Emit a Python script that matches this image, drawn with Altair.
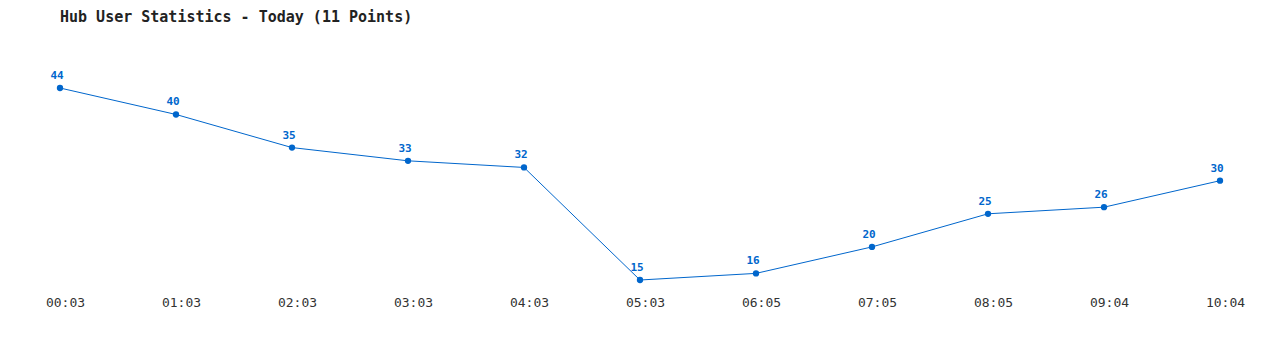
import altair as alt
import pandas as pd

times = ["00:03", "01:03", "02:03", "03:03", "04:03", "05:03", "06:05", "07:05", "08:05", "09:04", "10:04"]
users = [44, 40, 35, 33, 32, 15, 16, 20, 25, 26, 30]

df = pd.DataFrame({"time": times, "users": users})

BLUE = "#0066cc"
MONO = "DejaVu Sans Mono"

x = alt.X(
    "time:O",
    sort=times,
    scale=alt.Scale(type="point", padding=0),
    axis=alt.Axis(
        title=None, domain=False, ticks=False, grid=False, labelAngle=0,
        labelFont=MONO, labelFontSize=13, labelColor="#333333",
        labelPadding=22, labelBaseline="middle", labelOffset=5, labelOverlap=False,
    ),
)
y = alt.Y(
    "users:Q",
    scale=alt.Scale(domain=[15, 44], nice=False, zero=False),
    axis=None,
)

base = alt.Chart(df).encode(x=x, y=y)

line = base.mark_line(color=BLUE, strokeWidth=1)
points = base.mark_circle(color=BLUE, size=40, opacity=1)
labels = base.mark_text(
    color=BLUE, font=MONO, fontSize=11, fontWeight="bold",
    baseline="alphabetic", dy=-9, dx=-3,
).encode(text="users:Q")

chart = (
    alt.layer(line, points, labels)
    .properties(
        width=1160,
        height=192,
        background="white",
        autosize=alt.AutoSizeParams(type="none"),
        padding={"left": 60, "top": 88, "right": 60, "bottom": 70},
        title=alt.Title(
            "Hub User Statistics - Today (11 Points)",
            anchor="start", frame="group", font=MONO, fontSize=15,
            fontWeight="bold", color="#222222", offset=45,
        ),
    )
    .configure_view(strokeWidth=0, stroke="transparent")
)

chart.save("out.html", embed_options={"renderer": "svg", "actions": False})
